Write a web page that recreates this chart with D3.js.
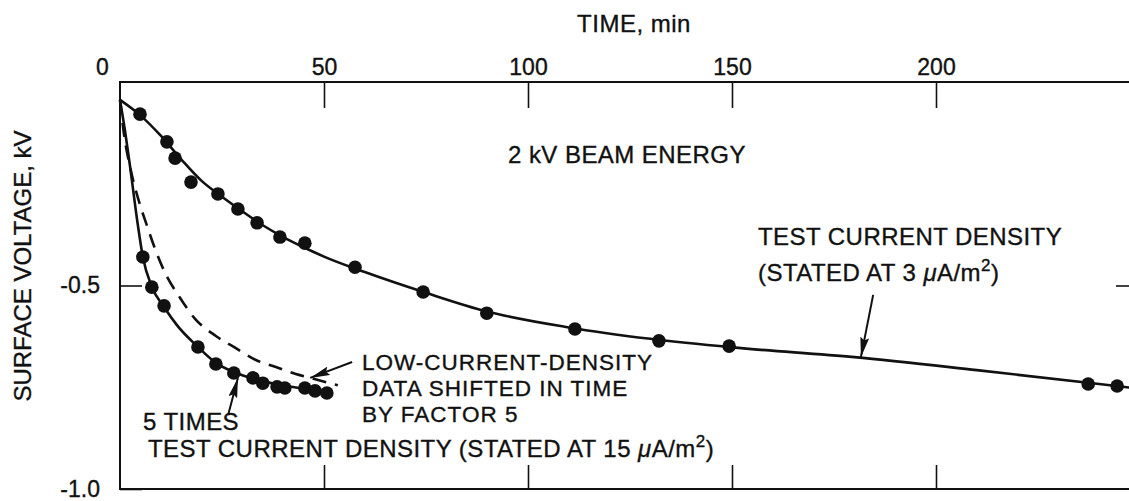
<!DOCTYPE html>
<html>
<head>
<meta charset="utf-8">
<script src="https://cdn.jsdelivr.net/npm/d3@7"></script>
<style>
  body { margin: 0; background: #fff; }
  svg { display: block; }
  text { font-family: "Liberation Sans", Arial, sans-serif; fill: #111; stroke: #111; stroke-width: 0.35px; }
  .tick text { font-size: 23px; }
  .note { font-size: 24px; letter-spacing: 0.45px; }
  .note.tight { font-size: 22.5px; letter-spacing: 1px; }
</style>
</head>
<body>
<div id="chart"></div>
<script>

const width = 1129, height = 501;
const margin = ({top: 82, right: -11, bottom: 12, left: 120});

const timeTicks = [0, 50, 100, 150, 200];
const voltTicks = [0, -0.5, -1.0];

// measured points, test current density (3 uA/m2)
const testTime = [4.9, 11.5, 13.5, 17.4, 24.0, 28.9, 33.6, 39.2, 45.3, 57.6, 74.3, 89.9, 111.5, 132.1, 149.3, 237.3, 244.4];
const testVolt = [-0.079, -0.147, -0.187, -0.246, -0.275, -0.312, -0.346, -0.381, -0.396, -0.455, -0.516, -0.568, -0.607, -0.636, -0.649, -0.742, -0.747];

// faired curve through them
const testFitTime = [0, 5, 10, 15, 20, 25, 30, 35, 40, 45, 50, 60, 75, 90, 110, 130, 150, 180, 210, 240, 250];
const testFitVolt = [-0.044, -0.082, -0.132, -0.190, -0.243, -0.282, -0.318, -0.352, -0.381, -0.406, -0.429, -0.467, -0.518, -0.564, -0.603, -0.631, -0.652, -0.676, -0.708, -0.742, -0.754];

// measured points, 5x test current density (15 uA/m2)
const fastTime = [5.6, 7.8, 10.8, 19.1, 23.5, 27.9, 32.6, 35.0, 38.5, 40.4, 45.3, 47.8, 50.7];
const fastVolt = [-0.430, -0.504, -0.550, -0.651, -0.693, -0.715, -0.727, -0.740, -0.749, -0.752, -0.752, -0.759, -0.764];

const fastFitTime = [0, 1.2, 2.5, 4.2, 5.6, 7.8, 10.8, 14, 19.1, 23.5, 28, 33, 38, 44, 51];
const fastFitVolt = [-0.044, -0.118, -0.210, -0.339, -0.430, -0.503, -0.553, -0.598, -0.651, -0.690, -0.713, -0.730, -0.742, -0.752, -0.762];

// low-current data shifted in time by factor 5 (dashed)
const shiftTime = [0, 1, 2.5, 4.7, 6.5, 8.6, 11, 14.7, 18.4, 23.5, 28.4, 33.3, 38.2, 42.9, 46.6, 53.4];
const shiftVolt = [-0.044, -0.130, -0.210, -0.295, -0.350, -0.410, -0.468, -0.530, -0.582, -0.624, -0.654, -0.683, -0.700, -0.717, -0.727, -0.745];

// arrows: [tailTime, tailVolt, tipTime, tipVolt]
const arrows = [
  [56.9, -0.688, 46.6, -0.727],
  [26.5, -0.818, 28.9, -0.727],
  [184.6, -0.523, 181.6, -0.676]
];

const zip = (a, b) => a.map((d, i) => [d, b[i]]);

var svg = d3.select("#chart").append("svg")
  .attr("width", width)
  .attr("height", height);

var x = d3.scaleLinear()
  .domain([0, 250])
  .range([margin.left, width - margin.right]);

var y = d3.scaleLinear()
  .domain([0, -1])
  .range([margin.top, height - margin.bottom]);

// frame
svg.append("rect")
  .attr("x", x(0)).attr("y", y(0))
  .attr("width", x(250) - x(0)).attr("height", y(-1) - y(0))
  .attr("fill", "none").attr("stroke", "#111").attr("stroke-width", 2);

// top axis (inward ticks, labelled)
var topAxis = svg.append("g")
  .attr("transform", "translate(0," + y(0) + ")")
  .call(d3.axisTop(x).tickValues(timeTicks).tickSize(-26).tickPadding(7).tickFormat(d3.format("d")));
topAxis.select(".domain").remove();
topAxis.selectAll(".tick line").attr("stroke", "#111").attr("stroke-width", 1.6);
topAxis.selectAll(".tick").filter(d => d === 0).select("line").remove();
topAxis.selectAll(".tick").filter(d => d === 0).select("text").attr("dx", -18);

// bottom axis (inward ticks, no labels)
var botAxis = svg.append("g")
  .attr("transform", "translate(0," + y(-1) + ")")
  .call(d3.axisBottom(x).tickValues(timeTicks.slice(1)).tickSize(-24).tickFormat(""));
botAxis.select(".domain").remove();
botAxis.selectAll(".tick line").attr("stroke", "#111").attr("stroke-width", 1.6);

// left axis
var leftAxis = svg.append("g")
  .attr("transform", "translate(" + x(0) + ",0)")
  .call(d3.axisLeft(y).tickValues(voltTicks.slice(1)).tickSize(-22).tickPadding(20).tickFormat(d => d.toFixed(1)));
leftAxis.select(".domain").remove();
leftAxis.selectAll(".tick line").attr("stroke", "#111").attr("stroke-width", 1.6);

// right axis
var rightAxis = svg.append("g")
  .attr("transform", "translate(" + x(250) + ",0)")
  .call(d3.axisRight(y).tickValues([-0.5]).tickSize(-24).tickFormat(""));
rightAxis.select(".domain").remove();
rightAxis.selectAll(".tick line").attr("stroke", "#111").attr("stroke-width", 1.6);

// axis titles
svg.append("text")
  .attr("x", 634).attr("y", 32)
  .attr("text-anchor", "middle")
  .attr("font-size", 24)
  .attr("letter-spacing", 0.5)
  .text("TIME, min");

svg.append("text")
  .attr("transform", "translate(31,266)rotate(-90)")
  .attr("text-anchor", "middle")
  .attr("font-size", 24)
  .text("SURFACE VOLTAGE, kV");

// curves
var line = d3.line()
  .x(d => x(d[0]))
  .y(d => y(d[1]))
  .curve(d3.curveMonotoneX);

svg.append("path")
  .attr("d", line(zip(testFitTime, testFitVolt)))
  .attr("fill", "none").attr("stroke", "#111").attr("stroke-width", 2.6);

svg.append("path")
  .attr("d", line(zip(fastFitTime, fastFitVolt)))
  .attr("fill", "none").attr("stroke", "#111").attr("stroke-width", 2.6);

svg.append("path")
  .attr("d", line(zip(shiftTime, shiftVolt)))
  .attr("fill", "none").attr("stroke", "#111").attr("stroke-width", 2.6)
  .attr("stroke-dasharray", "14,9");

// dots
svg.append("g").selectAll("circle")
  .data(zip(testTime, testVolt).concat(zip(fastTime, fastVolt)))
  .enter().append("circle")
    .attr("cx", d => x(d[0]))
    .attr("cy", d => y(d[1]))
    .attr("r", 6.8)
    .attr("fill", "#111");

// arrows
svg.append("defs").append("marker")
  .attr("id", "head")
  .attr("viewBox", "0 0 20 9")
  .attr("refX", 20).attr("refY", 4.5)
  .attr("markerWidth", 20).attr("markerHeight", 9)
  .attr("markerUnits", "userSpaceOnUse")
  .attr("orient", "auto")
  .append("path")
    .attr("d", "M0,0L20,4.5L0,9L3,4.5Z")
    .attr("fill", "#111");

svg.append("g").selectAll("line")
  .data(arrows)
  .enter().append("line")
    .attr("x1", d => x(d[0])).attr("y1", d => y(d[1]))
    .attr("x2", d => x(d[2])).attr("y2", d => y(d[3]))
    .attr("stroke", "#111").attr("stroke-width", 2)
    .attr("marker-end", "url(#head)");

// notes
function note(tx, ty, parts, cls) {
  var t = svg.append("text").attr("class", "note" + (cls ? " " + cls : "")).attr("x", tx).attr("y", ty);
  parts.forEach(p => {
    var s = t.append("tspan").text(p.s);
    if (p.mu) s.attr("font-style", "italic");
    if (p.sup) s.attr("font-size", 17).attr("dy", -10);
    if (p.down) s.attr("dy", 10);
  });
  return t;
}

note(508, 163, [{s: "2 kV BEAM ENERGY"}]);
note(758, 245, [{s: "TEST CURRENT DENSITY"}]);
note(758, 281, [{s: "(STATED AT 3 "}, {s: "\u03bc", mu: true}, {s: "A/m"}, {s: "2", sup: true}, {s: ")", down: true}]);
note(362, 370, [{s: "LOW-CURRENT-DENSITY"}], "tight");
note(362, 396, [{s: "DATA SHIFTED IN TIME"}], "tight");
note(362, 422, [{s: "BY FACTOR 5"}], "tight");
note(143, 430, [{s: "5 TIMES"}]);
note(148, 457, [{s: "TEST CURRENT DENSITY (STATED AT 15 "}, {s: "\u03bc", mu: true}, {s: "A/m"}, {s: "2", sup: true}, {s: ")", down: true}]);

</script>
</body>
</html>
